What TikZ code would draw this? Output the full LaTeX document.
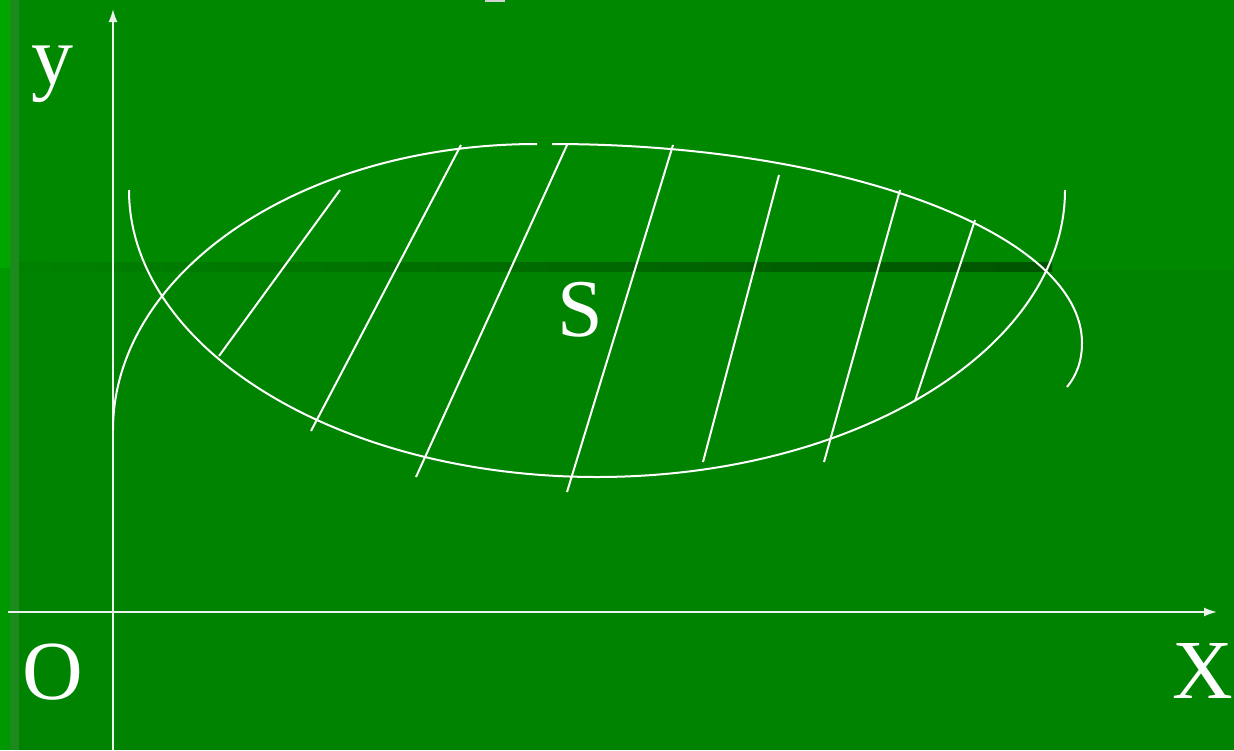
\documentclass[tikz,border=0pt]{standalone}
\usepackage{fontspec}
\setmainfont{Liberation Serif}
\usetikzlibrary{arrows.meta}
\definecolor{bgtop}{RGB}{0,137,0}
\definecolor{bgbot}{RGB}{0,131,0}
\definecolor{stripA}{RGB}{0,166,0}
\definecolor{stripAb}{RGB}{0,152,0}
\definecolor{stripB}{RGB}{28,138,28}
\definecolor{bandL}{RGB}{0,130,0}
\definecolor{bandM}{RGB}{0,116,0}
\definecolor{bandR}{RGB}{0,84,0}
\definecolor{axiscol}{RGB}{236,242,236}
\begin{document}
\begin{tikzpicture}[x=1pt,y=1pt,
  curve/.style={white, line width=2pt},
  axisline/.style={axiscol, line width=1.8pt, -{Latex[length=13pt,width=9pt]}},
  lbl/.style={white, anchor=base, inner sep=0pt, font=\fontsize{84}{84}\selectfont}]
\useasboundingbox (0,0) rectangle (1234,-750);
% background
\fill[bgtop] (0,0) rectangle (1234,-750);
\fill[bgbot] (0,-270) rectangle (1234,-750);
\fill[stripA] (0,0) rectangle (10,-268);
\fill[stripAb] (0,-268) rectangle (10,-750);
\fill[stripB] (10,0) rectangle (19,-750);
\shade[left color=bandL, middle color=bandM, right color=bandR] (19,-262) rectangle (1052,-271);
\fill[gray!35] (485,0) rectangle (505,-2);
% axes
\coordinate (ybot) at (113,-750);
\coordinate (ytop) at (113,-9);
\coordinate (xl) at (8,-612);
\coordinate (xr) at (1217,-612);
\draw[axisline] (ybot) -- (ytop);
\draw[axisline] (xl) -- (xr);
% lower curve
\draw[curve] (129,-190) arc[start angle=180,end angle=360,x radius=468pt,y radius=287pt];
% upper curve
\draw[curve] (113,-430) .. controls (113,-273) and (300,-144) .. (537,-144);
\draw[curve] (552,-144) .. controls (845,-144) and (1082,-234) .. (1082,-343)
  .. controls (1082,-362) and (1076,-376) .. (1067,-387);
% hatching
\draw[curve] (219,-356) -- (340,-190);
\draw[curve] (311,-431) -- (461,-145);
\draw[curve] (416,-477) -- (567,-145);
\draw[curve] (567,-492) -- (673,-145);
\draw[curve] (703,-462) -- (779,-175);
\draw[curve] (824,-462) -- (900,-190);
\draw[curve] (915,-401) -- (975,-220);
% labels
\node[lbl] (ylab) at (52,-84) {y};
\node[lbl] (olab) at (53,-699) {O};
\node[lbl] (xlab) at (1203,-698) {X};
\node[lbl, font=\fontsize{82}{82}\selectfont] (slab) at (580,-336) {S};
\end{tikzpicture}
\end{document}
